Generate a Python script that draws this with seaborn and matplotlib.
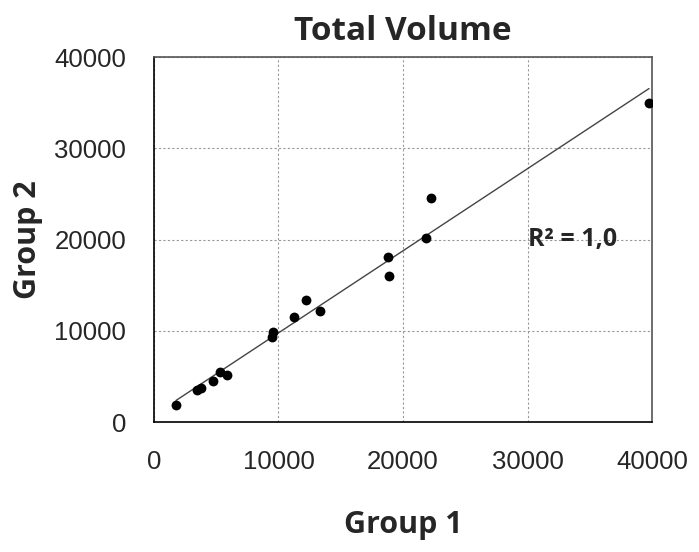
import pandas as pd
import matplotlib.pyplot as plt
import seaborn as sns

# Values
group1 = [1770, 3430, 3750, 4770, 5300, 5840, 9480, 9530, 11270, 12210, 13330,
          18820, 18880, 21850, 22250, 39760]
group2 = [1860, 3500, 3760, 4490, 5510, 5150, 9280, 9900, 11540, 13370, 12200,
          18120, 16040, 20130, 24510, 34920]
ticks = [0, 10000, 20000, 30000, 40000]
title = 'Total Volume'
r2_label = 'R² = 1,0'

df = pd.DataFrame({'Group 1': group1, 'Group 2': group2})

sns.set_style('white')
plt.rcParams['font.family'] = ['Open Sans', 'DejaVu Sans']

fig = plt.figure(figsize=(6.99, 5.52), dpi=100)
ax = fig.add_axes([0.2203, 0.2355, 0.7125, 0.6612])

sns.regplot(x='Group 1', y='Group 2', data=df, ax=ax, ci=None,
            scatter_kws={'color': 'black', 's': 50, 'alpha': 1, 'zorder': 3,
                         'linewidths': 0},
            line_kws={'color': '#444444', 'linewidth': 1})

ax.set_xlim(0, 40000)
ax.set_ylim(0, 40000)
ax.set_xticks(ticks)
ax.set_yticks(ticks)
ax.tick_params(direction='in', length=5, color='black', pad=20)
for lab in ax.get_xticklabels() + ax.get_yticklabels():
    lab.set_family('Liberation Sans')
    lab.set_fontsize(18.5)
ax.grid(True, color='#999999', linestyle=(0, (2, 2)), linewidth=0.8)
ax.set_axisbelow(True)
for side in ['left', 'bottom']:
    ax.spines[side].set_color('black')
    ax.spines[side].set_linewidth(1.2)
for side in ['right', 'top']:
    ax.spines[side].set_color('#555555')
    ax.spines[side].set_linewidth(1.2)

ax.set_title(title, fontsize=24, fontweight='bold', pad=12)
ax.set_xlabel('Group 1', fontsize=22, fontweight='bold', labelpad=26)
ax.set_ylabel('Group 2', fontsize=22, fontweight='bold', labelpad=8)
ax.text(30000, 20000, r2_label, fontsize=18, fontweight='bold', va='center', ha='left')

plt.savefig('out.png', dpi=100)
